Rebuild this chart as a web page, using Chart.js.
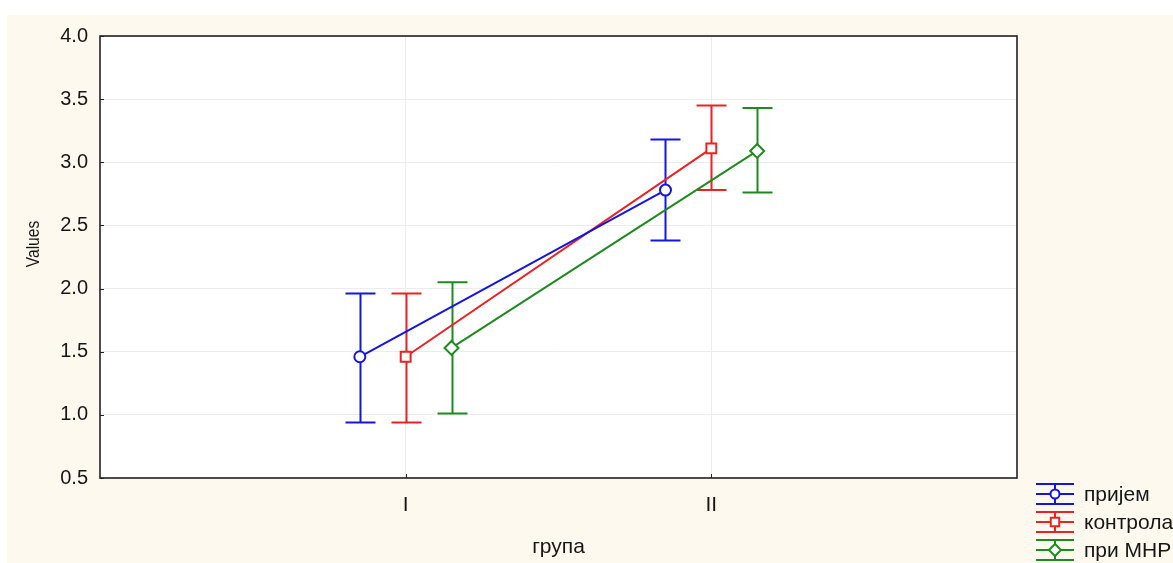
<!DOCTYPE html>
<html>
<head>
<meta charset="utf-8">
<script src="https://cdn.jsdelivr.net/npm/chart.js@4/dist/chart.umd.min.js"></script>
<style>
  html, body { margin: 0; padding: 0; background: #ffffff; }
  #wrap { width: 1173px; height: 563px; position: relative; }
</style>
</head>
<body>
<div id="wrap"><canvas id="c" width="1173" height="563"></canvas></div>
<script>
// Groups on the x axis
const categories = ['I', 'II'];
const xTitle = 'група';
const yTitle = 'Values';

// Series names
const seriesNames = ['пријем', 'контрола', 'при МНР'];

// Means and interval bounds per series (one entry per group)
const meanPrijem = [1.46, 2.78];
const lowPrijem = [0.94, 2.38];
const highPrijem = [1.96, 3.18];

const meanKontrola = [1.46, 3.11];
const lowKontrola = [0.94, 2.78];
const highKontrola = [1.96, 3.45];

const meanMnr = [1.53, 3.09];
const lowMnr = [1.01, 2.76];
const highMnr = [2.05, 3.43];

// Value axis
const yMin = 0.5;
const yMax = 4.0;
const yStep = 0.5;

const colors = ['#1515e0', '#ea2222', '#1f8a1f'];
const markers = ['circle', 'rect', 'rectRot'];
const markerRadius = [5.5, 7, 7];
const shift = [-0.15, 0, 0.15];

const means = [meanPrijem, meanKontrola, meanMnr];
const lows = [lowPrijem, lowKontrola, lowMnr];
const highs = [highPrijem, highKontrola, highMnr];

const datasets = seriesNames.map((name, s) => ({
  label: name,
  data: categories.map((c, i) => ({ x: i + 1 + shift[s], y: means[s][i] })),
  borderColor: colors[s],
  backgroundColor: '#ffffff',
  borderWidth: 2,
  pointStyle: markers[s],
  pointRadius: markerRadius[s],
  pointBorderWidth: 2,
  pointBackgroundColor: '#ffffff',
  pointBorderColor: colors[s],
  tension: 0,
  lows: lows[s],
  highs: highs[s]
}));

const FONT = '"Liberation Sans", Arial, sans-serif';
const TEXT = '#161616';

// Page background, white plot area, frame, inner ticks, whiskers, y title and legend
const decor = {
  id: 'decor',
  beforeDraw(chart) {
    const { ctx, chartArea: a } = chart;
    ctx.save();
    ctx.fillStyle = '#ffffff';
    ctx.fillRect(0, 0, chart.width, chart.height);
    ctx.fillStyle = '#fdf9ee';
    ctx.fillRect(7, 15, chart.width - 7, chart.height - 15);
    ctx.fillStyle = '#ffffff';
    ctx.fillRect(a.left, a.top, a.right - a.left, a.bottom - a.top);
    ctx.restore();
  },
  beforeDatasetsDraw(chart) {
    const { ctx } = chart;
    const xs = chart.scales.x, ys = chart.scales.y;
    const cap = 15;
    ctx.save();
    chart.data.datasets.forEach((ds) => {
      ctx.strokeStyle = ds.borderColor;
      ctx.lineWidth = 2;
      ds.data.forEach((p, i) => {
        const px = Math.round(xs.getPixelForValue(p.x)) + 0.5;
        const yl = ys.getPixelForValue(ds.lows[i]);
        const yh = ys.getPixelForValue(ds.highs[i]);
        ctx.beginPath();
        ctx.moveTo(px, yh); ctx.lineTo(px, yl);
        ctx.moveTo(px - cap, yh); ctx.lineTo(px + cap, yh);
        ctx.moveTo(px - cap, yl); ctx.lineTo(px + cap, yl);
        ctx.stroke();
      });
    });
    ctx.restore();
  },
  afterDraw(chart) {
    const { ctx, chartArea: a } = chart;
    ctx.save();
    // frame
    ctx.strokeStyle = '#222222';
    ctx.lineWidth = 1.6;
    ctx.strokeRect(a.left, a.top, a.right - a.left, a.bottom - a.top);
    // small inner tick marks
    ctx.lineWidth = 1;
    ctx.beginPath();
    chart.scales.y.ticks.forEach((t) => {
      const py = Math.round(chart.scales.y.getPixelForValue(t.value)) + 0.5;
      ctx.moveTo(a.left, py); ctx.lineTo(a.left + 4, py);
    });
    chart.scales.x.ticks.forEach((t) => {
      const px = Math.round(chart.scales.x.getPixelForValue(t.value)) + 0.5;
      ctx.moveTo(px, a.bottom); ctx.lineTo(px, a.bottom - 4);
    });
    ctx.stroke();

    // y axis title (rotated, slightly condensed along its run)
    ctx.save();
    ctx.translate(33, 244);
    ctx.rotate(-Math.PI / 2);
    ctx.scale(0.82, 1);
    ctx.fillStyle = TEXT;
    ctx.font = '19px ' + FONT;
    ctx.textAlign = 'center';
    ctx.textBaseline = 'middle';
    ctx.fillText(yTitle, 0, 1);
    ctx.restore();

    // legend
    const x0 = 1036, x1 = 1074, xm = 1055, tx = 1084;
    chart.data.datasets.forEach((ds, s) => {
      const cy = 494 + s * 28;
      ctx.strokeStyle = ds.borderColor;
      ctx.lineWidth = 2;
      ctx.beginPath();
      [cy - 10, cy, cy + 10].forEach((yy) => { ctx.moveTo(x0, yy); ctx.lineTo(x1, yy); });
      ctx.moveTo(xm, cy - 10); ctx.lineTo(xm, cy + 10);
      ctx.stroke();
      ctx.fillStyle = '#ffffff';
      ctx.lineWidth = 2;
      Chart.helpers.drawPoint(ctx, { pointStyle: ds.pointStyle, radius: ds.pointRadius - 1, borderWidth: 2 }, xm, cy);
      ctx.fillStyle = TEXT;
      ctx.font = '21px ' + FONT;
      ctx.textBaseline = 'middle';
      ctx.textAlign = 'left';
      ctx.fillText(ds.label, tx, cy + 1);
    });
    ctx.restore();
  }
};

new Chart(document.getElementById('c'), {
  type: 'line',
  data: { datasets },
  plugins: [decor],
  options: {
    responsive: false,
    animation: false,
    devicePixelRatio: 1,
    layout: { padding: { top: 36, right: 156, left: 0, bottom: 0 } },
    plugins: {
      legend: { display: false },
      tooltip: { enabled: false }
    },
    scales: {
      x: {
        type: 'linear',
        min: 0,
        max: categories.length + 1,
        afterBuildTicks(scale) {
          scale.ticks = categories.map((c, i) => ({ value: i + 1 }));
        },
        afterFit(scale) { scale.height = 85; },
        ticks: {
          color: TEXT,
          font: { family: FONT, size: 21 },
          padding: 15,
          maxRotation: 0,
          callback: (v) => categories[Math.round(v) - 1] || ''
        },
        grid: { color: '#ececec', lineWidth: 1, drawTicks: false },
        border: { display: false },
        title: {
          display: true,
          text: xTitle,
          color: TEXT,
          font: { family: FONT, size: 21 },
          padding: { top: 0, bottom: 3 }
        }
      },
      y: {
        min: yMin,
        max: yMax,
        afterFit(scale) { scale.width = 100; },
        ticks: {
          stepSize: yStep,
          color: TEXT,
          font: { family: FONT, size: 20 },
          padding: 12,
          callback: (v) => Number(v).toFixed(1)
        },
        grid: { color: '#ececec', lineWidth: 1, drawTicks: false },
        border: { display: false },
        title: { display: false }
      }
    }
  }
});
</script>
</body>
</html>
